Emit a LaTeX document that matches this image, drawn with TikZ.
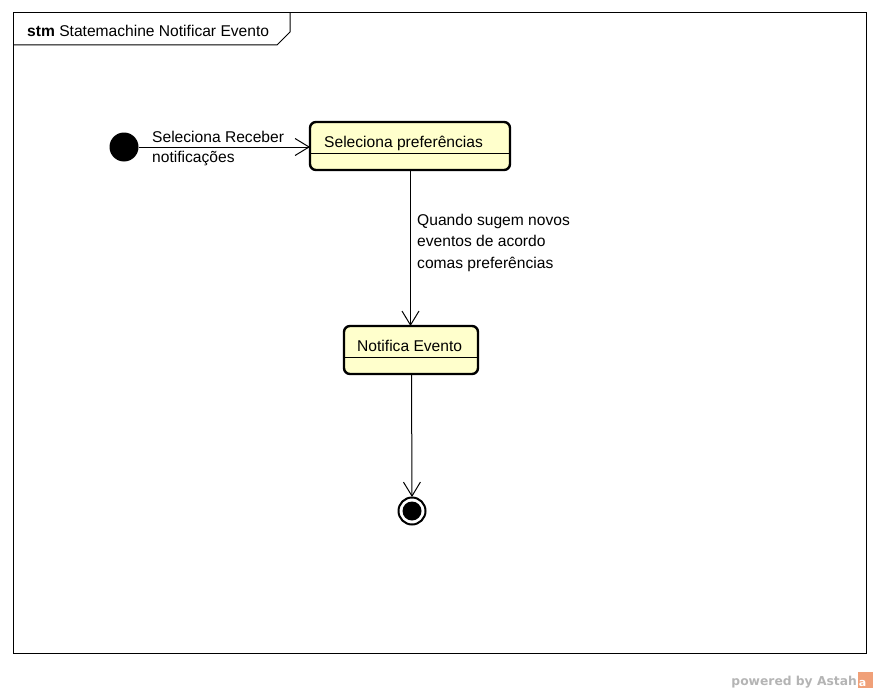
\documentclass[tikz,border=0pt]{standalone}
\usepackage{fontspec}
\setmainfont{Liberation Sans}
\newfontfamily\logofont{DejaVu Sans}
\usetikzlibrary{arrows.meta}
\definecolor{statefill}{RGB}{255,255,204}
\definecolor{logogray}{RGB}{180,180,180}
\definecolor{logoorange}{RGB}{240,160,120}
\tikzset{
  umltext/.style={font=\fontsize{15.6}{21.5}\selectfont, inner sep=0pt},
  statebox/.style={draw, line width=2.4pt, fill=statefill, rounded corners=6pt},
  trans/.style={line width=1pt, -{Straight Barb[length=14pt,width=17pt,line width=1pt]}},
}
\begin{document}
\begin{tikzpicture}[x=1pt,y=-1pt]
\useasboundingbox (0,0) rectangle (880,693);
% frame
\draw[line width=1pt] (13,13) rectangle (866,653);
\draw[line width=1pt] (13,45) -- (277,45) -- (290,32) -- (290,13);
\node[umltext, anchor=base west] (title) at (27,37) {\textbf{stm} Statemachine Notificar Evento};
% initial
\node[circle, fill=black, minimum size=29pt, inner sep=0pt] (init) at (124,147) {};
% state 1
\draw[statebox] (310,122) rectangle (510,170);
\draw[line width=1pt] (311,153) -- (509,153);
\node[umltext, anchor=base west] (s1) at (324,147) {Seleciona preferências};
\coordinate (s1w) at (310,147);
\coordinate (s1s) at (410.5,170);
% state 2
\draw[statebox] (344,326) rectangle (478,374);
\draw[line width=1pt] (345,357) -- (477,357);
\node[umltext, anchor=base west] (s2) at (357,351) {Notifica Evento};
\coordinate (s2n) at (410.5,326);
\coordinate (s2s) at (411.5,374);
% final
\node[circle, draw, line width=2pt, minimum size=27pt, inner sep=0pt, fill=white] (final) at (412,511) {};
\node[circle, fill=black, minimum size=19pt, inner sep=0pt] (finalin) at (412,511) {};
\coordinate (finaltop) at (412,497);
% transitions
\draw[trans] (init.east) -- (s1w);
\node[umltext, font=\fontsize{15.6}{20}\selectfont, anchor=base west, align=left] (l1) at (152,162.5) {Seleciona Receber\\notificações};
\draw[trans] (s1s) -- (s2n);
\node[umltext, anchor=base west, align=left] (l2) at (417,268) {Quando sugem novos\\eventos de acordo\\comas preferências};
\draw[trans] (s2s) -- (finaltop);
% logo
\node[font=\logofont\bfseries\fontsize{12.3}{14}\selectfont, text=logogray, anchor=base east, inner sep=0pt] (logo) at (857,685) {powered by Astah};
\fill[logoorange] (858,672) rectangle (873,688);
\node[font=\logofont\bfseries\fontsize{11}{12}\selectfont, text=white, inner sep=0pt] (logoa) at (862.5,683) {a};
\end{tikzpicture}
\end{document}
